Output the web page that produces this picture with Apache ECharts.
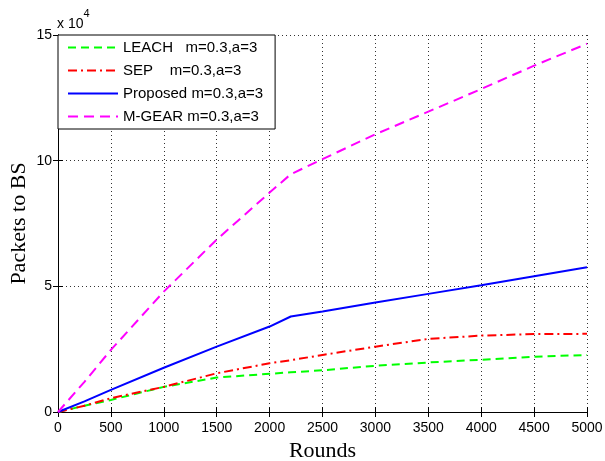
<!DOCTYPE html>
<html>
<head>
<meta charset="utf-8">
<script src="https://cdn.jsdelivr.net/npm/echarts@6/dist/echarts.min.js"></script>
<style>
  html, body { margin: 0; padding: 0; background: #fff; }
  #chart { width: 605px; height: 461px; }
</style>
</head>
<body>
<div id="chart"></div>
<script>
  // rounds shared by every curve
  var rounds = [0, 250, 500, 1000, 1500, 2000, 2200, 2500, 3000, 3500, 4000, 4500, 5000];
  // packets to BS
  var leach    = [0, 2500, 4800, 10000, 13700, 15200, 15800, 16600, 18400, 19700, 20800, 22000, 22700];
  var sep      = [0, 2500, 5500, 10000, 15400, 19400, 20600, 22700, 26000, 29100, 30400, 31000, 31100];
  var proposed = [0, 4200, 8800, 17600, 26000, 34000, 38000, 40000, 43600, 47000, 50400, 54000, 57600];
  var mgear    = [0, 12000, 24700, 47900, 68600, 87300, 94600, 100600, 110500, 119500, 128500, 137800, 146500];
  var yTicks = [0, 5, 10, 15]; // x 10^4

  var names = ['LEACH   m=0.3,a=3', 'SEP    m=0.3,a=3', 'Proposed m=0.3,a=3', 'M-GEAR m=0.3,a=3'];

  function pairs(vals) {
    return rounds.map(function (r, i) { return [r, vals[i]]; });
  }

  var chart = echarts.init(document.getElementById('chart'));

  var tickFont = {color: '#000', fontFamily: 'Liberation Sans', fontSize: 14};
  var frame = {show: true, lineStyle: {color: '#000', width: 1}};
  var ticks = {show: true, inside: true, length: 5, lineStyle: {color: '#000'}};
  var grid = {show: true, lineStyle: {color: '#333', type: [1, 3], width: 1}};

  chart.setOption({
    animation: false,
    grid: {left: 58, right: 18, top: 35, bottom: 49, outerBoundsMode: 'none', containLabel: false},
    legend: {
      orient: 'vertical',
      left: 58,
      top: 35,
      padding: [5, 12, 5, 9],
      itemGap: 8,
      itemWidth: 50,
      itemHeight: 15,
      backgroundColor: '#fff',
      borderColor: '#000',
      borderWidth: 1,
      itemStyle: {opacity: 0},
      textStyle: {fontFamily: 'Liberation Sans', fontSize: 15, color: '#000', padding: [0, 0, 0, 0]},
      data: names
    },
    graphic: [{
      type: 'text',
      left: 57,
      top: 8,
      style: {
        text: '{a|x 10}{b|4}',
        rich: {
          a: {fontFamily: 'Liberation Sans', fontSize: 14, color: '#000', padding: [9, 0, 0, 0]},
          b: {fontFamily: 'Liberation Sans', fontSize: 11, color: '#000', verticalAlign: 'top'}
        }
      }
    }],
    xAxis: [{
      type: 'value',
      min: 0, max: 5000, interval: 500,
      name: 'Rounds',
      nameLocation: 'middle',
      nameGap: 27,
      nameTextStyle: {fontFamily: 'Liberation Serif', fontSize: 22, color: '#000'},
      axisLine: frame,
      axisTick: ticks,
      axisLabel: Object.assign({margin: 9, formatter: function (v) { return String(v); }}, tickFont),
      splitLine: grid
    }, {
      type: 'value', position: 'top',
      min: 0, max: 5000, interval: 500,
      axisLine: frame, axisTick: ticks,
      axisLabel: {show: false}, splitLine: {show: false}
    }],
    yAxis: [{
      type: 'value',
      min: 0, max: 150000, interval: 50000,
      name: 'Packets to BS',
      nameLocation: 'middle',
      nameGap: 28,
      nameMoveOverlap: false,
      nameTextStyle: {fontFamily: 'Liberation Serif', fontSize: 22, color: '#000'},
      axisLine: frame,
      axisTick: ticks,
      axisLabel: Object.assign({
        margin: 6,
        formatter: function (v) { return String(yTicks[Math.round(v / 50000)]); }
      }, tickFont),
      splitLine: grid
    }, {
      type: 'value', position: 'right',
      min: 0, max: 150000, interval: 50000,
      axisLine: frame, axisTick: ticks,
      axisLabel: {show: false}, splitLine: {show: false}
    }],
    series: [
      {name: names[0], type: 'line', symbol: 'none', data: pairs(leach),
        lineStyle: {color: '#00ff00', width: 2, type: [8, 5]}, itemStyle: {color: '#00ff00'}},
      {name: names[1], type: 'line', symbol: 'none', data: pairs(sep),
        lineStyle: {color: '#ff0000', width: 2, type: [9, 4, 2, 4]}, itemStyle: {color: '#ff0000'}},
      {name: names[2], type: 'line', symbol: 'none', data: pairs(proposed),
        lineStyle: {color: '#0000ff', width: 2}, itemStyle: {color: '#0000ff'}},
      {name: names[3], type: 'line', symbol: 'none', data: pairs(mgear),
        lineStyle: {color: '#ff00ff', width: 2, type: [10, 6]}, itemStyle: {color: '#ff00ff'}}
    ]
  });
</script>
</body>
</html>
